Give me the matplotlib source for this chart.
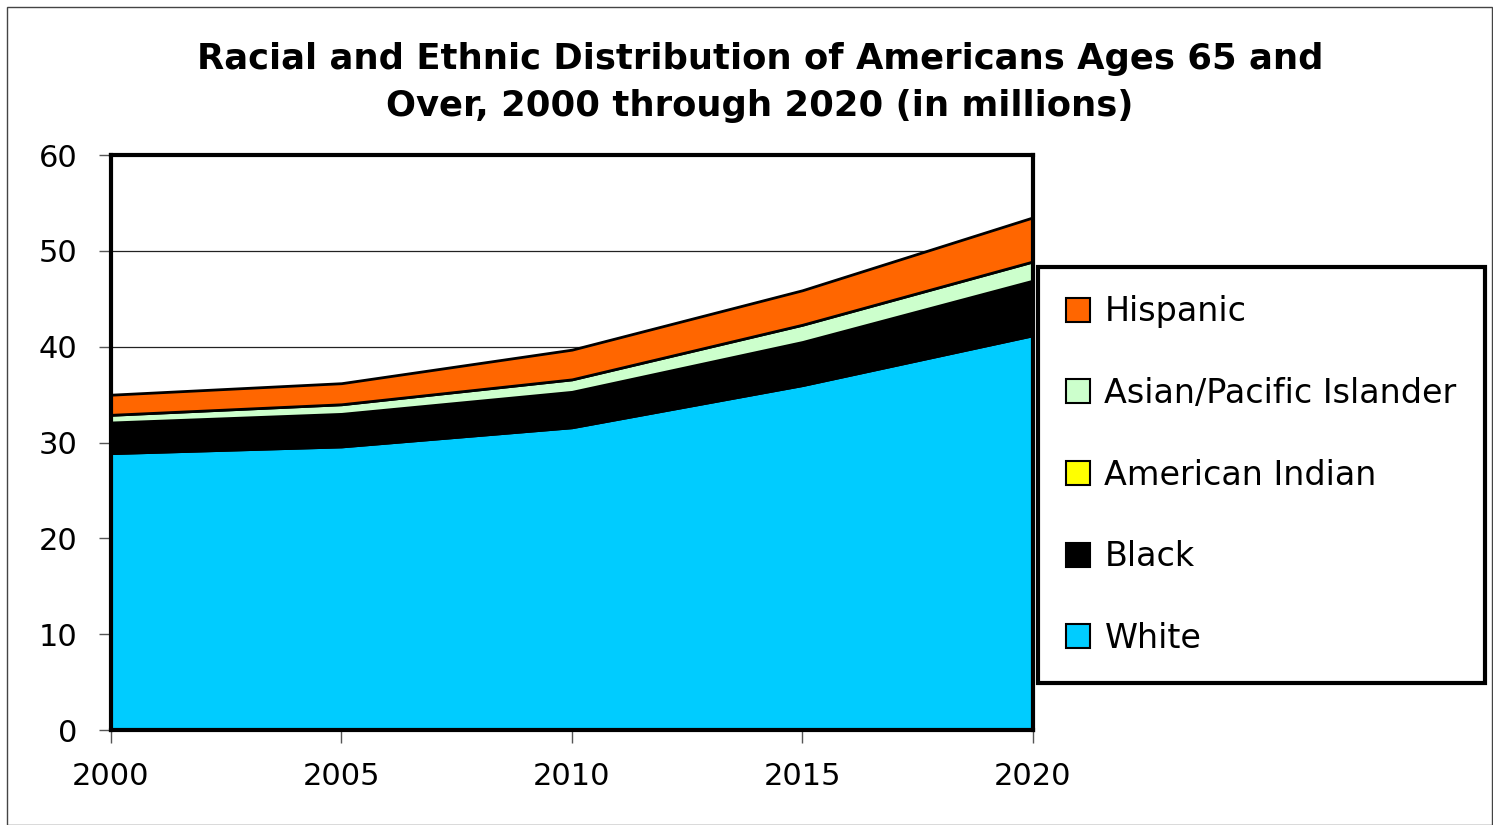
import matplotlib.pyplot as plt
import matplotlib.patches as mpatches
import numpy as np

plt.rcParams['font.family'] = ['DejaVu Sans']

years = [2000, 2005, 2010, 2015, 2020]
white = [28.9, 29.6, 31.6, 36.0, 41.2]
black = [3.1, 3.3, 3.5, 4.3, 5.5]
american_indian = [0.1, 0.1, 0.2, 0.2, 0.2]
asian_pi = [0.8, 1.0, 1.3, 1.8, 2.0]
hispanic = [2.1, 2.2, 3.1, 3.6, 4.6]

labels = ["White", "Black", "American Indian", "Asian/Pacific Islander", "Hispanic"]
colors = ["#00CCFF", "#000000", "#FFFF00", "#CCFFCC", "#FF6600"]

fig = plt.figure(figsize=(14.93, 8.25), dpi=100)
ax = fig.add_axes([0.0743, 0.115, 0.6175, 0.697])

# thin outer frame of the figure
fig.patches.append(mpatches.Rectangle((0.005, 0.0), 0.994, 0.991, transform=fig.transFigure,
                                      fill=False, edgecolor="#444444", linewidth=1))

for gy in [10, 20, 30, 40, 50]:
    ax.axhline(gy, color="#222222", linewidth=0.9, zorder=0)

ax.stackplot(years, white, black, american_indian, asian_pi, hispanic,
             colors=colors, edgecolor="black", linewidth=2, zorder=2)

ax.set_xlim(2000, 2020)
ax.set_ylim(0, 60)
ax.set_xticks(years)
ax.set_yticks(np.arange(0, 61, 10))
ax.tick_params(axis="both", labelsize=22, length=9, width=1, color="#555555", direction="out")
ax.tick_params(axis="x", pad=14)
ax.tick_params(axis="y", pad=15)
for s in ax.spines.values():
    s.set_linewidth(3)
    s.set_zorder(5)

fig.text(0.509, 0.9, "Racial and Ethnic Distribution of Americans Ages 65 and\nOver, 2000 through 2020 (in millions)",
         ha="center", va="center", fontsize=25.5, fontweight="bold", linespacing=1.45)

handles = [mpatches.Patch(facecolor=c, edgecolor="black", linewidth=1.5, label=l)
           for c, l in zip(colors, labels)][::-1]
leg = fig.legend(handles=handles, loc="upper left", bbox_to_anchor=(0.6953, 0.6764),
                 fontsize=24, frameon=True, fancybox=False, framealpha=1, labelspacing=1.46,
                 handlelength=0.72, handleheight=0.72, handletextpad=0.42,
                 borderpad=0.85, borderaxespad=0)
leg.get_frame().set_edgecolor("black")
leg.get_frame().set_linewidth(3)

fig.savefig("out.png", dpi=100)
